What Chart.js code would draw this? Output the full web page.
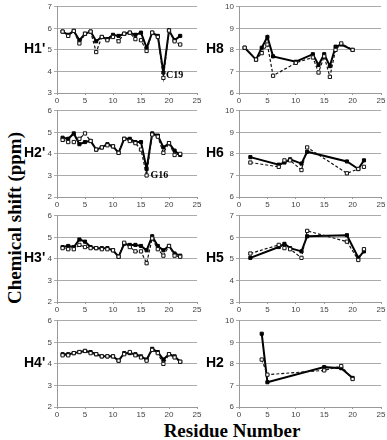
<!DOCTYPE html>
<html>
<head>
<meta charset="utf-8">
<script src="https://cdn.jsdelivr.net/npm/chart.js@4.4.0/dist/chart.umd.min.js"></script>
<style>
  body { margin: 0; background: #fff; }
  #wrap { position: relative; width: 387px; height: 440px; overflow: hidden; }
  .pan { position: absolute; }
  .lbl { position: absolute; font: bold 14px "Liberation Sans", Arial, sans-serif; color: #000; }
  #ytitle { position: absolute; left: 15px; top: 218px; transform: translate(-50%, -50%) rotate(-90deg);
    font: bold 19px "Liberation Serif", "Times New Roman", serif; white-space: nowrap; }
  #xtitle { position: absolute; left: 232px; top: 431px; transform: translate(-50%, -50%);
    font: bold 19px "Liberation Serif", "Times New Roman", serif; white-space: nowrap; }
</style>
</head>
<body>
<div id="wrap">
  <div id="ytitle">Chemical shift (ppm)</div>
  <div id="xtitle">Residue Number</div>
</div>
<script>
// residue numbers
const resAll = [1,2,3,4,5,6,7,8,9,10,11,12,13,14,15,16,17,18,19,20,21,22];
const resH8 = [1,3,4,5,6,10,13,14,15,16,17,18,20];
const resH6 = [2,7,8,9,11,12,19,21,22];
const resH5 = [2,7,8,9,11,12,19,21,22];
const resH2 = [4,5,15,18,20];

// sugar protons (solid = filled squares, dashed = open squares)
const h1Solid  = [5.85,5.7,5.88,5.45,5.75,5.85,5.4,5.6,5.5,5.7,5.65,5.75,5.8,5.7,5.8,5.1,5.8,5.65,3.95,5.9,5.45,5.65];
const h1Dashed = [5.85,5.65,5.88,5.3,5.75,5.85,4.9,5.6,5.45,5.6,5.4,5.75,5.8,5.5,5.45,4.95,5.8,5.6,3.7,5.9,5.4,5.25];
const h2pSolid  = [4.75,4.7,4.95,4.45,4.55,4.6,4.2,4.3,4.45,4.35,4.05,4.7,4.7,4.55,4.55,3.3,4.95,4.85,4.3,4.5,4.15,3.95];
const h2pDashed = [4.65,4.55,4.55,4.7,4.95,4.6,4.2,4.3,4.4,4.35,4.05,4.7,4.6,4.5,4.2,3.0,4.9,4.8,4.05,4.5,3.95,4.0];
const h3Solid  = [4.55,4.6,4.55,4.9,4.8,4.55,4.5,4.5,4.5,4.4,4.1,4.7,4.65,4.65,4.6,4.4,5.05,4.6,4.4,4.6,4.25,4.15];
const h3Dashed = [4.5,4.45,4.45,4.65,4.55,4.5,4.5,4.45,4.45,4.4,4.1,4.75,4.55,4.35,4.35,3.8,4.95,4.45,4.15,4.6,4.15,4.1];
const h4Solid  = [4.45,4.45,4.5,4.55,4.6,4.55,4.45,4.35,4.35,4.35,4.15,4.5,4.5,4.45,4.35,4.2,4.7,4.55,4.2,4.45,4.35,4.1];
const h4Dashed = [4.4,4.4,4.5,4.55,4.6,4.5,4.45,4.35,4.35,4.35,4.15,4.45,4.55,4.4,4.3,4.15,4.65,4.5,4.0,4.45,4.3,4.1];

// base protons
const h8Solid  = [8.1,7.55,8.1,8.6,7.7,7.45,7.8,7.3,7.8,7.25,8.15,8.25,8.0];
const h8Dashed = [8.1,7.55,7.85,8.25,6.8,7.4,7.65,6.95,7.7,6.75,8.0,8.3,8.0];
const h6Solid  = [7.85,7.5,7.6,7.75,7.55,8.1,7.65,7.3,7.7];
const h6Dashed = [7.6,7.4,7.7,7.7,7.25,8.3,7.1,7.3,7.4];
const h5Solid  = [5.05,5.55,5.7,5.5,5.35,6.05,6.1,5.05,5.35];
const h5Dashed = [5.25,5.65,5.5,5.45,5.05,6.3,5.8,4.95,5.45];
const h2Solid  = [9.4,7.15,7.85,7.8,7.35];
const h2Dashed = [8.2,7.5,7.7,7.9,7.3];

const xTicks = [0,5,10,15,20,25];

const panels = [
  {name: "H1'", left: true, top: 5,   yMin: 3, yMax: 7, x: resAll, a: h1Solid, b: h1Dashed, note: {t: 'C19', x: 21, y: 3.8}},
  {name: "H2'", left: true, top: 109, yMin: 2, yMax: 6, x: resAll, a: h2pSolid, b: h2pDashed, note: {t: 'G16', x: 18.3, y: 3.0}},
  {name: "H3'", left: true, top: 214, yMin: 2, yMax: 6, x: resAll, a: h3Solid, b: h3Dashed},
  {name: "H4'", left: true, top: 319, yMin: 2, yMax: 6, x: resAll, a: h4Solid, b: h4Dashed},
  {name: 'H8', left: false, top: 5,   yMin: 6, yMax: 10, x: resH8, a: h8Solid, b: h8Dashed},
  {name: 'H6', left: false, top: 109, yMin: 6, yMax: 10, x: resH6, a: h6Solid, b: h6Dashed},
  {name: 'H5', left: false, top: 214, yMin: 3, yMax: 7, x: resH5, a: h5Solid, b: h5Dashed},
  {name: 'H2', left: false, top: 319, yMin: 6, yMax: 10, x: resH2, a: h2Solid, b: h2Dashed}
];

const notePlugin = {
  id: 'note',
  afterDatasetsDraw(chart, args, opts) {
    if (!opts.t) return;
    const ctx = chart.ctx;
    ctx.save();
    ctx.font = 'bold 10px "Liberation Serif", serif';
    ctx.fillStyle = '#000';
    ctx.textAlign = 'center';
    ctx.textBaseline = 'middle';
    ctx.fillText(opts.t, chart.scales.x.getPixelForValue(opts.x), chart.scales.y.getPixelForValue(opts.y));
    ctx.restore();
  }
};

const wrap = document.getElementById('wrap');
const plotH = 88;

panels.forEach(p => {
  const cLeft = p.left ? 40 : 222;
  const cW = p.left ? 164 : 165;
  const padR = p.left ? 7 : 6;
  const cTop = p.top - 5;
  const cH = 5 + plotH + 14;

  const box = document.createElement('div');
  box.className = 'pan';
  box.style.left = cLeft + 'px';
  box.style.top = cTop + 'px';
  box.style.width = cW + 'px';
  box.style.height = cH + 'px';
  const cv = document.createElement('canvas');
  box.appendChild(cv);
  wrap.appendChild(box);

  const lbl = document.createElement('div');
  lbl.className = 'lbl';
  lbl.textContent = p.name;
  lbl.style.left = (p.left ? 24 : 206) + 'px';
  lbl.style.top = (p.top + plotH / 2 - 9) + 'px';
  wrap.appendChild(lbl);

  const solid = p.x.map((v, i) => ({x: v, y: p.a[i]}));
  const dashed = p.x.map((v, i) => ({x: v, y: p.b[i]}));

  new Chart(cv, {
    type: 'scatter',
    data: {
      datasets: [
        {
          data: dashed, showLine: true, borderColor: '#111', borderWidth: 1.2, borderDash: [3, 2],
          pointStyle: 'rect', pointRadius: 2.3, pointBackgroundColor: '#fff', pointBorderColor: '#111', pointBorderWidth: 1
        },
        {
          data: solid, showLine: true, borderColor: '#000', borderWidth: 2,
          pointStyle: 'rect', pointRadius: 2.2, pointBackgroundColor: '#000', pointBorderColor: '#000', pointBorderWidth: 1
        }
      ]
    },
    options: {
      responsive: true,
      maintainAspectRatio: false,
      animation: false,
      layout: {padding: {top: 5, right: padR, left: 0, bottom: 0}},
      plugins: {legend: {display: false}, tooltip: {enabled: false}, note: p.note || {}},
      scales: {
        x: {
          type: 'linear', min: 0, max: 25,
          afterBuildTicks: s => { s.ticks = xTicks.map(v => ({value: v})); },
          afterFit: s => { s.height = 14; },
          grid: {display: true, drawOnChartArea: false, drawTicks: true, tickLength: 2, color: '#999'},
          border: {color: '#999', width: 1},
          ticks: {font: {size: 8, family: 'Liberation Sans'}, color: '#444', padding: 1, maxRotation: 0}
        },
        y: {
          min: p.yMin, max: p.yMax,
          afterFit: s => { s.width = 17; },
          grid: {color: '#aaa', lineWidth: 1, tickLength: 3},
          border: {color: '#999', width: 1},
          ticks: {stepSize: 1, font: {size: 8, family: 'Liberation Sans'}, color: '#444', padding: 2}
        }
      }
    },
    plugins: [notePlugin]
  });
});
</script>
</body>
</html>
